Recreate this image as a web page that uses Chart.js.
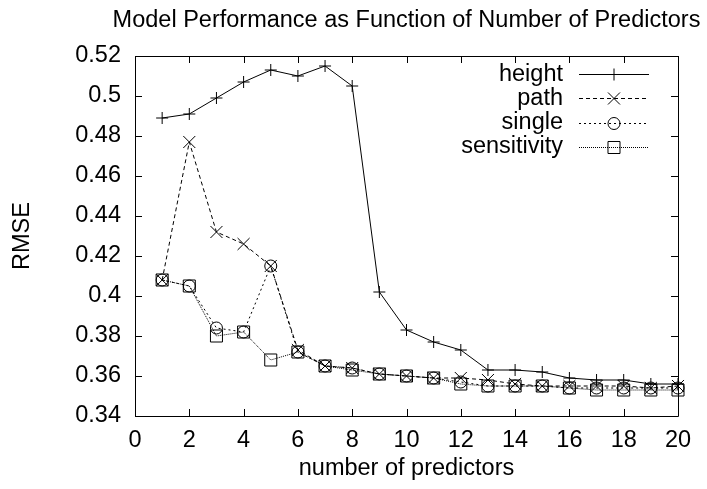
<!DOCTYPE html>
<html>
<head>
<meta charset="utf-8">
<title>Model Performance as Function of Number of Predictors</title>
<script src="https://cdn.jsdelivr.net/npm/chart.js@4.4.0/dist/chart.umd.min.js"></script>
<style>
html, body { margin: 0; padding: 0; background: #ffffff; }
#wrap { width: 707px; height: 489px; position: relative; }
</style>
</head>
<body>
<div id="wrap"><canvas id="rmseChart"></canvas></div>
<script>
//======================================================
// DATA
//======================================================

const predictors = [1, 2, 3, 4, 5, 6, 7, 8, 9, 10, 11, 12, 13, 14, 15, 16, 17, 18, 19, 20];

const heightRmse = [0.489, 0.491, 0.499, 0.507, 0.513, 0.510, 0.515, 0.505, 0.402, 0.383,
                    0.377, 0.373, 0.363, 0.363, 0.362, 0.359, 0.358, 0.358, 0.356, 0.356];

const pathRmse = [0.408, 0.477, 0.432, 0.426, 0.415, 0.373, 0.365, 0.364, 0.361, 0.360,
                  0.359, 0.359, 0.358, 0.356, 0.355, 0.355, 0.355, 0.355, 0.354, 0.355];

const singleRmse = [0.408, 0.405, 0.384, 0.382, 0.415, 0.372, 0.365, 0.364, 0.361, 0.360,
                    0.359, 0.357, 0.355, 0.355, 0.355, 0.354, 0.354, 0.354, 0.354, 0.354];

const sensitivityRmse = [0.408, 0.405, 0.380, 0.382, 0.368, 0.372, 0.365, 0.363, 0.361, 0.360,
                         0.359, 0.356, 0.355, 0.355, 0.355, 0.354, 0.353, 0.353, 0.353, 0.353];

const xTickLabels = ["0", "2", "4", "6", "8", "10", "12", "14", "16", "18", "20"];
const yTickLabels = ["0.34", "0.36", "0.38", "0.4", "0.42", "0.44", "0.46", "0.48", "0.5", "0.52"];

const chartTitle = "Model Performance as Function of Number of Predictors";
const xTitle = "number of predictors";
const yTitle = "RMSE";

//======================================================
// STYLE
//======================================================

const FONT = "'Liberation Sans', Arial, Helvetica, sans-serif";
const FONT_SIZE = 23.5;

Chart.defaults.color = "#000000";
Chart.defaults.font.family = FONT;
Chart.defaults.font.size = FONT_SIZE;

function series(label, values, dash, pointStyle, radius){

    return {
        label: label,
        data: predictors.map(function(x, i){ return {x: x, y: values[i]}; }),
        borderColor: "#000000",
        borderWidth: 1,
        borderDash: dash,
        backgroundColor: "rgba(0,0,0,0)",
        pointStyle: pointStyle,
        pointRadius: radius,
        pointBorderWidth: 1,
        pointBorderColor: "#000000",
        pointBackgroundColor: "rgba(0,0,0,0)",
        tension: 0,
        clip: false
    };

}

//======================================================
// PLUGINS
//======================================================

// centre the title over the plot area, the way gnuplot does
const titlePlacer = {
    id: "titlePlacer",
    afterLayout(chart){
        const t = chart.titleBlock;
        if(!t) return;
        const mid = (chart.chartArea.left + chart.chartArea.right) / 2;
        t.left = mid - 330;
        t.right = mid + 330;
    }
};

// full frame with inward ticks on all four sides
const frameTicks = {
    id: "frameTicks",
    beforeDatasetsDraw(chart){
        const ctx = chart.ctx;
        const a = chart.chartArea;
        const xs = chart.scales.x;
        const ys = chart.scales.y;
        const len = 7;

        ctx.save();
        ctx.strokeStyle = "#000000";
        ctx.lineWidth = 1;
        ctx.beginPath();
        ctx.rect(a.left + 0.5, a.top + 0.5, a.right - a.left, a.bottom - a.top);

        xs.ticks.forEach(function(t){
            const px = Math.round(xs.getPixelForValue(t.value)) + 0.5;
            ctx.moveTo(px, a.bottom);
            ctx.lineTo(px, a.bottom - len);
            ctx.moveTo(px, a.top);
            ctx.lineTo(px, a.top + len);
        });

        ys.ticks.forEach(function(t){
            const py = Math.round(ys.getPixelForValue(t.value)) + 0.5;
            ctx.moveTo(a.left, py);
            ctx.lineTo(a.left + len, py);
            ctx.moveTo(a.right, py);
            ctx.lineTo(a.right - len, py);
        });

        ctx.stroke();
        ctx.restore();
    }
};

// gnuplot style key: text right aligned, then line sample with marker
const gnuKey = {
    id: "gnuKey",
    afterDraw(chart){
        const ctx = chart.ctx;
        const textRight = 563;
        const lineStart = 579;
        const lineEnd = 649;
        const markX = 614;
        const firstRow = 74.3;
        const rowStep = 24.1;

        ctx.save();
        ctx.font = FONT_SIZE + "px " + FONT;
        ctx.textAlign = "right";
        ctx.textBaseline = "middle";

        chart.data.datasets.forEach(function(ds, i){
            const y = firstRow + i * rowStep;
            const ly = Math.round(y) + 0.5;

            ctx.fillStyle = "#000000";
            ctx.fillText(ds.label, textRight, y);

            ctx.strokeStyle = "#000000";
            ctx.lineWidth = 1;
            ctx.setLineDash(ds.borderDash);
            ctx.beginPath();
            ctx.moveTo(lineStart, ly);
            ctx.lineTo(lineEnd, ly);
            ctx.stroke();
            ctx.setLineDash([]);

            // hollow marker, like the plotted points
            ctx.fillStyle = "rgba(0,0,0,0)";
            Chart.helpers.drawPoint(ctx, {
                pointStyle: ds.pointStyle,
                radius: ds.pointRadius,
                borderWidth: 1,
                rotation: 0
            }, markX, ly);
        });

        ctx.restore();
    }
};

//======================================================
// CHART
//======================================================

const ctx = document.getElementById("rmseChart").getContext("2d");

new Chart(ctx, {

    type: "line",

    data: {
        datasets: [
            series("height", heightRmse, [], "cross", 6),
            series("path", pathRmse, [4, 3], "crossRot", 8.5),
            series("single", singleRmse, [2, 3], "circle", 6),
            series("sensitivity", sensitivityRmse, [1, 1], "rect", 8.5)
        ]
    },

    options: {

        responsive: true,
        maintainAspectRatio: false,
        animation: false,

        layout: {
            padding: { left: 0, right: 29, top: 0, bottom: 0 }
        },

        plugins: {
            legend: { display: false },
            tooltip: { enabled: false },
            title: {
                display: true,
                text: chartTitle,
                color: "#000000",
                font: { family: FONT, size: FONT_SIZE, weight: "normal" },
                padding: { top: 6, bottom: 21.8 }
            }
        },

        scales: {

            x: {
                type: "linear",
                min: 0,
                max: 20,
                grid: { display: false, drawTicks: false },
                border: { display: false },
                afterFit(scale){ scale.height = 73; },
                ticks: {
                    stepSize: 2,
                    padding: 10,
                    maxRotation: 0,
                    autoSkip: false,
                    callback: function(value, index){ return xTickLabels[index]; }
                },
                title: {
                    display: true,
                    text: xTitle,
                    padding: { top: 0, bottom: 6.5 }
                }
            },

            y: {
                type: "linear",
                min: 0.34,
                max: 0.52,
                grid: { display: false, drawTicks: false },
                border: { display: false },
                afterFit(scale){ scale.width = 135; },
                ticks: {
                    stepSize: 0.02,
                    padding: 14,
                    autoSkip: false,
                    callback: function(value, index){ return yTickLabels[index]; }
                },
                title: {
                    display: true,
                    text: yTitle,
                    padding: { top: 8.4, bottom: 0 }
                }
            }

        }

    },

    plugins: [titlePlacer, frameTicks, gnuKey]

});
</script>
</body>
</html>
